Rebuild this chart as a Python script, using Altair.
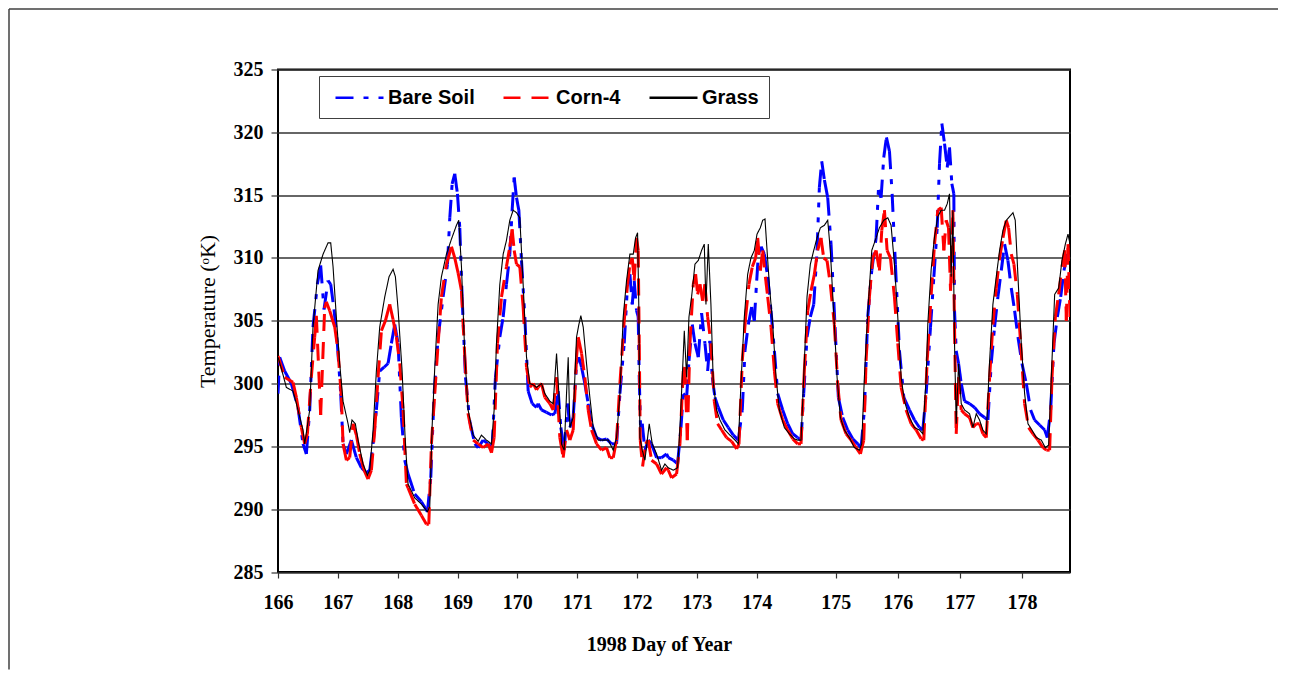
import altair as alt
import pandas as pd

SERIES = ["Bare Soil", "Corn-4", "Grass"]
COLORS = ["#0000ff", "#ff0000", "#000000"]
DASHES = [[18, 10, 5, 10, 5, 10], [17, 11], [1, 0]]
WIDTHS = {"Bare Soil": 3, "Corn-4": 3, "Grass": 1.1}

X_TICKS = list(range(166, 179))
Y_TICKS = list(range(285, 326, 5))

bare_soil = [
    (166.000, 299.2), (166.028, 302.1), (166.111, 301.0), (166.223, 300.0), (166.334, 298.1),
    (166.418, 295.2), (166.474, 294.4), (166.530, 297.9), (166.585, 304.5), (166.658, 307.9),
    (166.713, 309.4), (166.769, 305.9), (166.836, 308.2), (166.881, 307.9), (166.936, 305.9),
    (166.992, 303.2), (167.048, 299.2), (167.087, 295.2), (167.143, 294.4), (167.226, 295.5),
    (167.310, 294.1), (167.394, 293.3), (167.477, 292.9), (167.533, 293.1), (167.589, 295.2),
    (167.644, 297.9), (167.700, 301.0), (167.773, 301.3), (167.839, 301.6), (167.895, 303.2),
    (167.951, 304.7), (168.007, 303.2), (168.062, 297.3), (168.118, 293.9),
    (168.174, 292.8), (168.285, 291.2), (168.397, 290.6), (168.497, 289.8), (168.553, 292.5),
    (168.609, 299.2), (168.676, 303.7), (168.759, 306.9), (168.832, 309.5), (168.871, 313.2),
    (168.910, 315.9), (168.954, 316.7), (168.999, 315.1), (169.038, 312.4), (169.077, 306.9),
    (169.133, 300.5), (169.205, 297.0), (169.289, 295.2), (169.345, 294.9), (169.428, 295.5),
    (169.512, 295.2), (169.579, 294.9), (169.634, 300.5), (169.707, 303.7), (169.763, 305.3),
    (169.818, 307.9), (169.874, 310.3), (169.913, 313.8), (169.947, 316.4), (169.986, 314.8),
    (170.025, 313.8), (170.069, 309.8), (170.125, 305.3), (170.181, 299.4), (170.248, 298.4),
    (170.320, 298.1),
    (170.348, 298.4), (170.404, 297.9), (170.487, 297.7), (170.571, 297.5), (170.627, 297.6),
    (170.682, 299.4), (170.727, 296.5), (170.783, 294.7), (170.839, 298.4), (170.878, 296.5),
    (170.933, 297.3), (170.989, 301.6), (171.028, 302.1), (171.073, 301.3), (171.128, 300.0),
    (171.184, 298.4), (171.240, 296.8), (171.323, 295.7), (171.407, 295.5), (171.491, 295.6),
    (171.574, 295.2), (171.658, 295.2), (171.714, 299.2), (171.786, 303.2), (171.842, 307.9),
    (171.881, 308.7), (171.920, 306.3), (171.953, 308.2), (171.992, 305.8), (172.020, 305.3),
    (172.037, 300.5), (172.059, 296.5), (172.087, 296.8), (172.132, 294.7), (172.187, 295.5),
    (172.243, 295.2), (172.327, 294.1), (172.410, 294.1), (172.494, 294.4),
    (172.522, 294.1), (172.606, 293.9), (172.678, 293.6), (172.734, 296.5), (172.773, 299.2),
    (172.829, 298.9), (172.868, 301.8), (172.923, 304.7), (172.968, 303.2), (173.024, 302.1),
    (173.079, 305.6), (173.135, 303.2), (173.180, 301.0), (173.219, 303.4), (173.258, 300.5),
    (173.302, 298.9), (173.358, 298.1), (173.442, 297.1), (173.525, 296.5), (173.609, 295.9),
    (173.693, 295.5), (173.759, 297.9), (173.804, 302.6), (173.860, 304.7), (173.916, 306.1),
    (173.960, 305.0), (174.000, 308.2), (174.021, 310.3), (174.055, 310.9), (174.097, 310.3),
    (174.139, 308.5), (174.181, 305.8), (174.224, 302.6), (174.266, 299.2), (174.329, 297.9),
    (174.392, 296.8), (174.456, 296.0),
    (174.519, 295.7), (174.561, 295.5), (174.595, 299.2), (174.637, 303.7), (174.679, 305.3),
    (174.722, 306.3), (174.764, 310.6), (174.793, 315.6), (174.823, 317.7), (174.857, 316.2),
    (174.899, 314.8), (174.941, 311.1), (174.992, 304.5), (175.043, 298.9), (175.113, 297.3),
    (175.194, 296.3), (175.274, 295.6), (175.355, 295.2), (175.409, 294.9), (175.462, 297.9),
    (175.516, 305.3), (175.581, 309.0), (175.651, 311.6), (175.688, 315.4), (175.731, 314.8),
    (175.774, 318.0), (175.817, 319.6), (175.866, 318.5), (175.909, 315.1), (175.962, 309.5),
    (176.027, 302.6), (176.097, 298.9), (176.188, 297.9), (176.269, 297.1), (176.349, 296.5),
    (176.403, 296.3), (176.457, 299.2),
    (176.527, 304.5), (176.581, 308.5), (176.635, 312.4), (176.672, 317.5), (176.710, 320.7),
    (176.753, 319.1), (176.796, 317.2), (176.833, 318.8), (176.871, 315.9), (176.903, 315.1),
    (176.914, 305.8), (176.941, 302.6), (176.979, 301.6), (177.022, 300.0), (177.075, 298.6),
    (177.156, 298.4), (177.237, 298.1), (177.317, 297.6), (177.398, 297.3), (177.452, 297.1),
    (177.505, 301.6), (177.559, 304.5), (177.613, 306.9), (177.667, 309.0), (177.720, 311.1),
    (177.774, 309.8), (177.828, 307.6), (177.882, 305.8), (177.936, 303.7), (178.000, 301.6),
    (178.070, 300.0), (178.140, 297.9), (178.204, 297.1), (178.285, 296.7), (178.366, 296.3),
    (178.409, 295.7), (178.462, 297.9), (178.516, 303.2), (178.570, 305.3), (178.624, 306.9),
    (178.677, 309.0), (178.731, 310.3), (178.774, 310.0),
]

corn_4 = [
    (166.000, 302.2), (166.111, 300.5), (166.251, 300.1), (166.307, 298.9), (166.390, 296.5),
    (166.446, 295.2), (166.491, 296.0), (166.557, 300.5), (166.613, 303.7), (166.641, 305.4),
    (166.713, 297.5), (166.780, 306.0), (166.808, 306.5), (166.864, 305.8), (166.948, 304.5),
    (167.003, 302.6), (167.059, 298.9), (167.087, 295.2), (167.143, 293.9), (167.198, 294.1),
    (167.254, 296.8), (167.310, 295.9), (167.366, 294.4), (167.438, 293.1), (167.505, 292.4),
    (167.561, 293.1), (167.616, 296.3), (167.672, 300.5), (167.728, 304.2), (167.795, 305.0),
    (167.867, 306.3), (167.923, 305.1), (167.979, 303.7), (168.035, 301.6), (168.090, 297.9),
    (168.146, 292.0),
    (168.174, 291.7), (168.285, 290.4), (168.397, 289.5), (168.481, 288.8), (168.520, 288.8),
    (168.564, 295.2), (168.620, 299.2), (168.676, 303.2), (168.731, 306.9), (168.815, 309.5),
    (168.899, 310.9), (168.954, 310.0), (169.010, 308.8), (169.066, 307.4), (169.122, 302.1),
    (169.177, 297.6), (169.261, 295.5), (169.345, 295.2), (169.428, 294.9), (169.512, 295.2),
    (169.568, 294.5), (169.612, 295.7), (169.668, 303.2), (169.735, 306.9), (169.818, 309.3),
    (169.874, 310.9), (169.913, 312.3), (169.947, 310.6), (169.986, 309.5), (170.041, 309.3),
    (170.097, 306.1), (170.153, 301.3), (170.209, 299.7), (170.264, 300.0), (170.320, 299.5),
    (170.348, 299.7), (170.404, 300.0), (170.459, 298.9), (170.543, 298.4), (170.599, 297.9),
    (170.655, 300.5), (170.710, 295.7), (170.766, 294.1), (170.822, 296.3), (170.878, 295.5),
    (170.933, 296.3), (170.989, 302.1), (171.017, 303.7), (171.073, 302.4), (171.128, 300.5),
    (171.184, 297.9), (171.240, 296.3), (171.323, 295.2), (171.407, 294.7), (171.491, 294.9),
    (171.546, 294.1), (171.602, 294.1), (171.658, 295.5), (171.714, 300.0), (171.786, 305.0),
    (171.842, 307.9), (171.881, 309.5), (171.920, 310.0), (171.953, 308.2), (171.992, 311.6),
    (172.020, 310.6), (172.037, 303.2), (172.054, 295.5), (172.093, 293.4), (172.143, 295.2),
    (172.187, 295.5), (172.243, 293.9), (172.327, 293.6), (172.410, 292.8), (172.494, 293.3),
    (172.522, 293.1), (172.578, 292.5), (172.661, 292.8), (172.717, 295.2), (172.773, 301.0),
    (172.801, 301.3), (172.840, 295.5), (172.884, 303.2), (172.940, 307.9), (172.979, 308.7),
    (173.013, 307.1), (173.052, 307.9), (173.096, 306.6), (173.135, 307.9), (173.180, 305.3),
    (173.235, 303.2), (173.291, 298.6), (173.347, 296.8), (173.414, 296.3), (173.497, 295.7),
    (173.581, 295.4), (173.665, 294.8), (173.704, 295.2), (173.759, 301.8), (173.815, 305.3),
    (173.871, 307.9), (173.927, 309.3), (173.982, 310.0), (174.013, 311.6), (174.046, 309.0),
    (174.076, 310.6), (174.110, 308.5), (174.139, 306.9), (174.181, 304.5), (174.224, 301.0),
    (174.266, 298.4), (174.329, 297.1), (174.392, 296.3), (174.456, 295.6),
    (174.519, 295.2), (174.561, 295.2), (174.603, 301.0), (174.646, 305.8), (174.688, 307.4),
    (174.730, 308.7), (174.772, 310.6), (174.814, 311.6), (174.848, 310.0), (174.890, 309.8),
    (174.932, 307.9), (174.983, 304.7), (175.032, 300.0), (175.086, 297.1), (175.167, 296.0),
    (175.247, 295.5), (175.328, 294.9), (175.398, 294.4), (175.452, 295.5), (175.489, 301.8),
    (175.543, 306.9), (175.597, 310.0), (175.651, 310.6), (175.704, 309.0), (175.742, 312.2),
    (175.785, 313.8), (175.828, 310.6), (175.882, 310.0), (175.946, 306.9), (176.000, 303.2),
    (176.054, 299.7), (176.134, 297.9), (176.215, 296.8), (176.296, 296.3), (176.376, 295.6),
    (176.419, 295.5), (176.473, 301.8),
    (176.484, 302.6), (176.538, 307.1), (176.592, 311.1), (176.645, 313.8), (176.699, 314.0),
    (176.742, 310.6), (176.780, 313.0), (176.817, 312.4), (176.850, 307.4), (176.887, 313.8),
    (176.914, 304.5), (176.941, 296.0), (176.979, 300.5), (177.022, 297.9), (177.075, 297.6),
    (177.156, 297.3), (177.210, 296.5), (177.264, 296.8), (177.317, 296.8), (177.371, 296.0),
    (177.425, 295.7), (177.479, 300.5), (177.532, 304.7), (177.586, 307.6), (177.640, 310.0),
    (177.694, 311.6), (177.747, 313.0), (177.785, 312.4), (177.828, 310.3), (177.871, 309.5),
    (177.925, 307.1), (177.979, 303.2), (178.043, 298.4), (178.108, 296.5), (178.177, 296.0),
    (178.258, 295.5), (178.339, 294.9), (178.393, 294.7), (178.446, 294.7), (178.484, 300.5),
    (178.538, 305.3), (178.591, 307.1), (178.645, 309.3), (178.688, 310.6), (178.715, 305.0),
    (178.742, 311.1), (178.774, 305.3),
]

grass = [
    (166.000, 302.1), (166.056, 301.2), (166.139, 299.7), (166.251, 299.4), (166.307, 298.4),
    (166.418, 296.3), (166.446, 295.2), (166.530, 297.9), (166.585, 304.5), (166.669, 309.0),
    (166.753, 310.3), (166.836, 311.2), (166.881, 311.2), (166.920, 309.3), (166.975, 305.3),
    (167.031, 301.6), (167.087, 298.6), (167.171, 296.8), (167.198, 296.1), (167.237, 297.1),
    (167.293, 296.8), (167.338, 295.5), (167.421, 293.6), (167.494, 292.7), (167.533, 293.1),
    (167.589, 296.3), (167.644, 301.0), (167.700, 304.5), (167.784, 306.9), (167.856, 308.5),
    (167.923, 309.1), (167.962, 308.5), (168.007, 305.9), (168.074, 301.0), (168.129, 295.2),
    (168.174, 292.0), (168.285, 290.9), (168.397, 290.4), (168.497, 289.8), (168.536, 290.2),
    (168.575, 296.5), (168.620, 301.3), (168.676, 306.3), (168.731, 308.5), (168.815, 310.3),
    (168.899, 311.5), (168.982, 312.6), (169.021, 313.0), (169.066, 309.3), (169.122, 302.3),
    (169.177, 297.9), (169.261, 295.9), (169.345, 295.4), (169.400, 295.9), (169.484, 295.5),
    (169.568, 295.2), (169.612, 297.9), (169.651, 303.2), (169.707, 307.9), (169.763, 310.3),
    (169.818, 311.4), (169.874, 313.0), (169.930, 313.8), (169.986, 313.6), (170.041, 313.2),
    (170.097, 307.9), (170.153, 302.1), (170.209, 300.0), (170.264, 299.9), (170.320, 299.7),
    (170.404, 300.0), (170.459, 299.2), (170.543, 298.6), (170.599, 298.4), (170.655, 302.4),
    (170.694, 299.2), (170.738, 295.2), (170.783, 294.7), (170.822, 299.2), (170.850, 302.1),
    (170.878, 296.5), (170.933, 297.3), (170.989, 303.7), (171.028, 304.7), (171.061, 305.4),
    (171.101, 304.5), (171.156, 301.6), (171.212, 298.9), (171.268, 296.5), (171.351, 295.5),
    (171.435, 295.5), (171.519, 295.5), (171.602, 294.7), (171.658, 295.7), (171.714, 299.2),
    (171.769, 305.3), (171.825, 308.2), (171.881, 310.3), (171.937, 310.3), (171.976, 311.6),
    (172.009, 312.0), (172.031, 305.8), (172.048, 295.7), (172.087, 294.7), (172.132, 293.9),
    (172.204, 296.8), (172.254, 295.2), (172.327, 294.4), (172.410, 293.1), (172.466, 293.6),
    (172.522, 293.3), (172.606, 293.1), (172.678, 293.3), (172.717, 296.5), (172.756, 300.5),
    (172.790, 304.2), (172.829, 300.5), (172.868, 305.3), (172.912, 306.9), (172.968, 309.5),
    (173.024, 309.8), (173.079, 310.6), (173.124, 311.1), (173.152, 306.3), (173.191, 311.1),
    (173.235, 306.3), (173.275, 300.0), (173.330, 297.9), (173.386, 297.1), (173.470, 296.3),
    (173.553, 295.9), (173.637, 295.5), (173.693, 295.2), (173.737, 300.0), (173.793, 305.3),
    (173.849, 308.7), (173.904, 310.0), (173.960, 310.6), (174.004, 311.9), (174.046, 312.4),
    (174.076, 313.0), (174.105, 313.1), (174.131, 310.6), (174.160, 307.9), (174.203, 304.7),
    (174.245, 300.5), (174.287, 297.9), (174.350, 296.5), (174.413, 296.0), (174.477, 295.6),
    (174.519, 295.5), (174.561, 295.5), (174.595, 300.5), (174.637, 306.9), (174.679, 309.5),
    (174.722, 310.6), (174.764, 311.6), (174.806, 312.4), (174.857, 312.6), (174.899, 313.0),
    (174.932, 310.6), (174.975, 305.6), (175.022, 300.5), (175.075, 297.3), (175.140, 296.3),
    (175.220, 295.7), (175.301, 294.9), (175.382, 294.7), (175.419, 295.2), (175.462, 300.5),
    (175.516, 305.6), (175.581, 310.6), (175.651, 311.6), (175.704, 312.4), (175.774, 313.0),
    (175.839, 313.2), (175.892, 312.6), (175.946, 309.5), (176.000, 305.3), (176.054, 300.5),
    (176.107, 298.6), (176.188, 297.3), (176.269, 296.5), (176.349, 296.3), (176.403, 296.0),
    (176.457, 300.5),
    (176.484, 304.8), (176.538, 309.1), (176.592, 311.7), (176.645, 313.3), (176.699, 313.8),
    (176.753, 313.8), (176.796, 314.3), (176.833, 315.1), (176.860, 308.5), (176.887, 313.8),
    (176.914, 303.2), (176.941, 296.8), (176.979, 301.6), (177.022, 298.4), (177.075, 297.9),
    (177.156, 297.6), (177.210, 296.5), (177.264, 297.6), (177.317, 297.1), (177.371, 296.3),
    (177.425, 296.0), (177.479, 301.8), (177.532, 306.3), (177.586, 308.5), (177.640, 310.6),
    (177.694, 312.2), (177.747, 313.0), (177.801, 313.3), (177.855, 313.6), (177.892, 313.0),
    (177.936, 308.5), (177.989, 303.2), (178.043, 299.2), (178.097, 296.8), (178.161, 296.3),
    (178.231, 295.7), (178.312, 295.5), (178.376, 294.9), (178.430, 295.1), (178.473, 300.5),
    (178.527, 307.1), (178.591, 307.6), (178.645, 309.8), (178.699, 311.1), (178.742, 311.9),
    (178.774, 311.1),
]

frames = []
for name, pts in zip(SERIES, [bare_soil, corn_4, grass]):
    f = pd.DataFrame(pts, columns=["day", "temp"])
    f["series"] = name
    f["day2"] = f["day"].shift(-1)
    f["temp2"] = f["temp"].shift(-1)
    frames.append(f)
df = pd.concat(frames, ignore_index=True)

SERIF = "Liberation Serif"
SANS = "Liberation Sans"

legend_kw = dict(
    title=None, orient="none", legendX=41, legendY=6.5, direction="horizontal",
    symbolType="M-2.4,0H2.4", symbolSize=400, labelFont=SANS, labelFontSize=20,
    labelFontWeight="bold", labelColor="black", padding=10, strokeColor="#404040",
    fillColor="white", columnPadding=22, symbolOffset=19, labelOffset=17,
)
try:
    legend = alt.Legend(
        **legend_kw,
        encode={"symbols": {"update": {"strokeWidth": {
            "signal": "datum.value === 'Grass' ? 1.1 : 3"}}}},
    )
    alt.Chart(pd.DataFrame({"a": ["x"]})).mark_line().encode(
        color=alt.Color("a:N", legend=legend)).to_dict()
except Exception:
    legend = alt.Legend(**legend_kw, symbolStrokeWidth=2.5)

x_enc = alt.X(
    "day:Q",
    scale=alt.Scale(domain=[166, 174, 175, 178.774], range=[0, 478.7, 557.7, 792],
                    nice=False, zero=False),
    axis=alt.Axis(
        values=X_TICKS, title="1998 Day of Year", grid=False, domain=False,
        tickColor="#333333", tickSize=6, tickWidth=1.2, labelFlush=False,
        labelFont=SERIF, labelFontSize=20, labelFontWeight="bold", labelColor="black",
        labelPadding=14, titleFont=SERIF, titleFontSize=20, titleFontWeight="bold",
        titleColor="black", titleX=381, titleY=78, titleBaseline="alphabetic",
    ),
)
y_enc = alt.Y(
    "temp:Q",
    scale=alt.Scale(domain=[285, 325], nice=False, zero=False),
    axis=alt.Axis(
        values=Y_TICKS, title="Temperature (ᵒK)", grid=True, gridColor="#333333",
        gridWidth=1.3, domain=False, tickColor="#333333", tickSize=7, tickWidth=1.2,
        labelFont=SERIF, labelFontSize=20, labelFontWeight="bold", labelColor="black",
        labelPadding=8, titleFont=SERIF, titleFontSize=22, titleFontWeight="normal",
        titleColor="black", titleX=-64, titleY=241.5, titleBaseline="alphabetic",
    ),
)
color_enc = alt.Color("series:N", scale=alt.Scale(domain=SERIES, range=COLORS), legend=legend)
dash_enc = alt.StrokeDash("series:N", scale=alt.Scale(domain=SERIES, range=DASHES), legend=legend)

one_row = alt.Data(values=[{"k": 1}])
layers = [
    # outer frame of the figure: top and left edges (the others lie outside the picture)
    alt.Chart(one_row).mark_rule(color="#404040", strokeWidth=1.5).encode(
        x=alt.value(-269), x2=alt.value(1000), y=alt.value(-60.5)),
    alt.Chart(one_row).mark_rule(color="#404040", strokeWidth=1.5).encode(
        x=alt.value(-269), y=alt.value(-60.5), y2=alt.value(600)),
]

# dashed series: each segment restarts its dash pattern (as in the original)
for name in ["Bare Soil", "Corn-4"]:
    layers.append(
        alt.Chart(df).transform_filter(alt.datum.series == name)
        .transform_filter("isValid(datum.day2)")
        .mark_rule(clip=True, strokeWidth=WIDTHS[name])
        .encode(x=x_enc, x2="day2:Q", y=y_enc, y2="temp2:Q",
                color=color_enc, strokeDash=dash_enc)
    )
layers.append(
    alt.Chart(df).transform_filter(alt.datum.series == "Grass")
    .mark_line(clip=True, strokeWidth=WIDTHS["Grass"])
    .encode(x=x_enc, y=y_enc, color=color_enc, strokeDash=dash_enc, order="day:Q")
)

chart = alt.layer(*layers).properties(
    width=792, height=502.5,
    autosize=alt.AutoSizeParams(type="none"),
    padding={"left": 270, "top": 61.5, "right": 216, "bottom": 107},
    background="white",
).configure_view(stroke="black", strokeWidth=2)

chart.save("out.html", embed_options={"renderer": "svg", "actions": False})
